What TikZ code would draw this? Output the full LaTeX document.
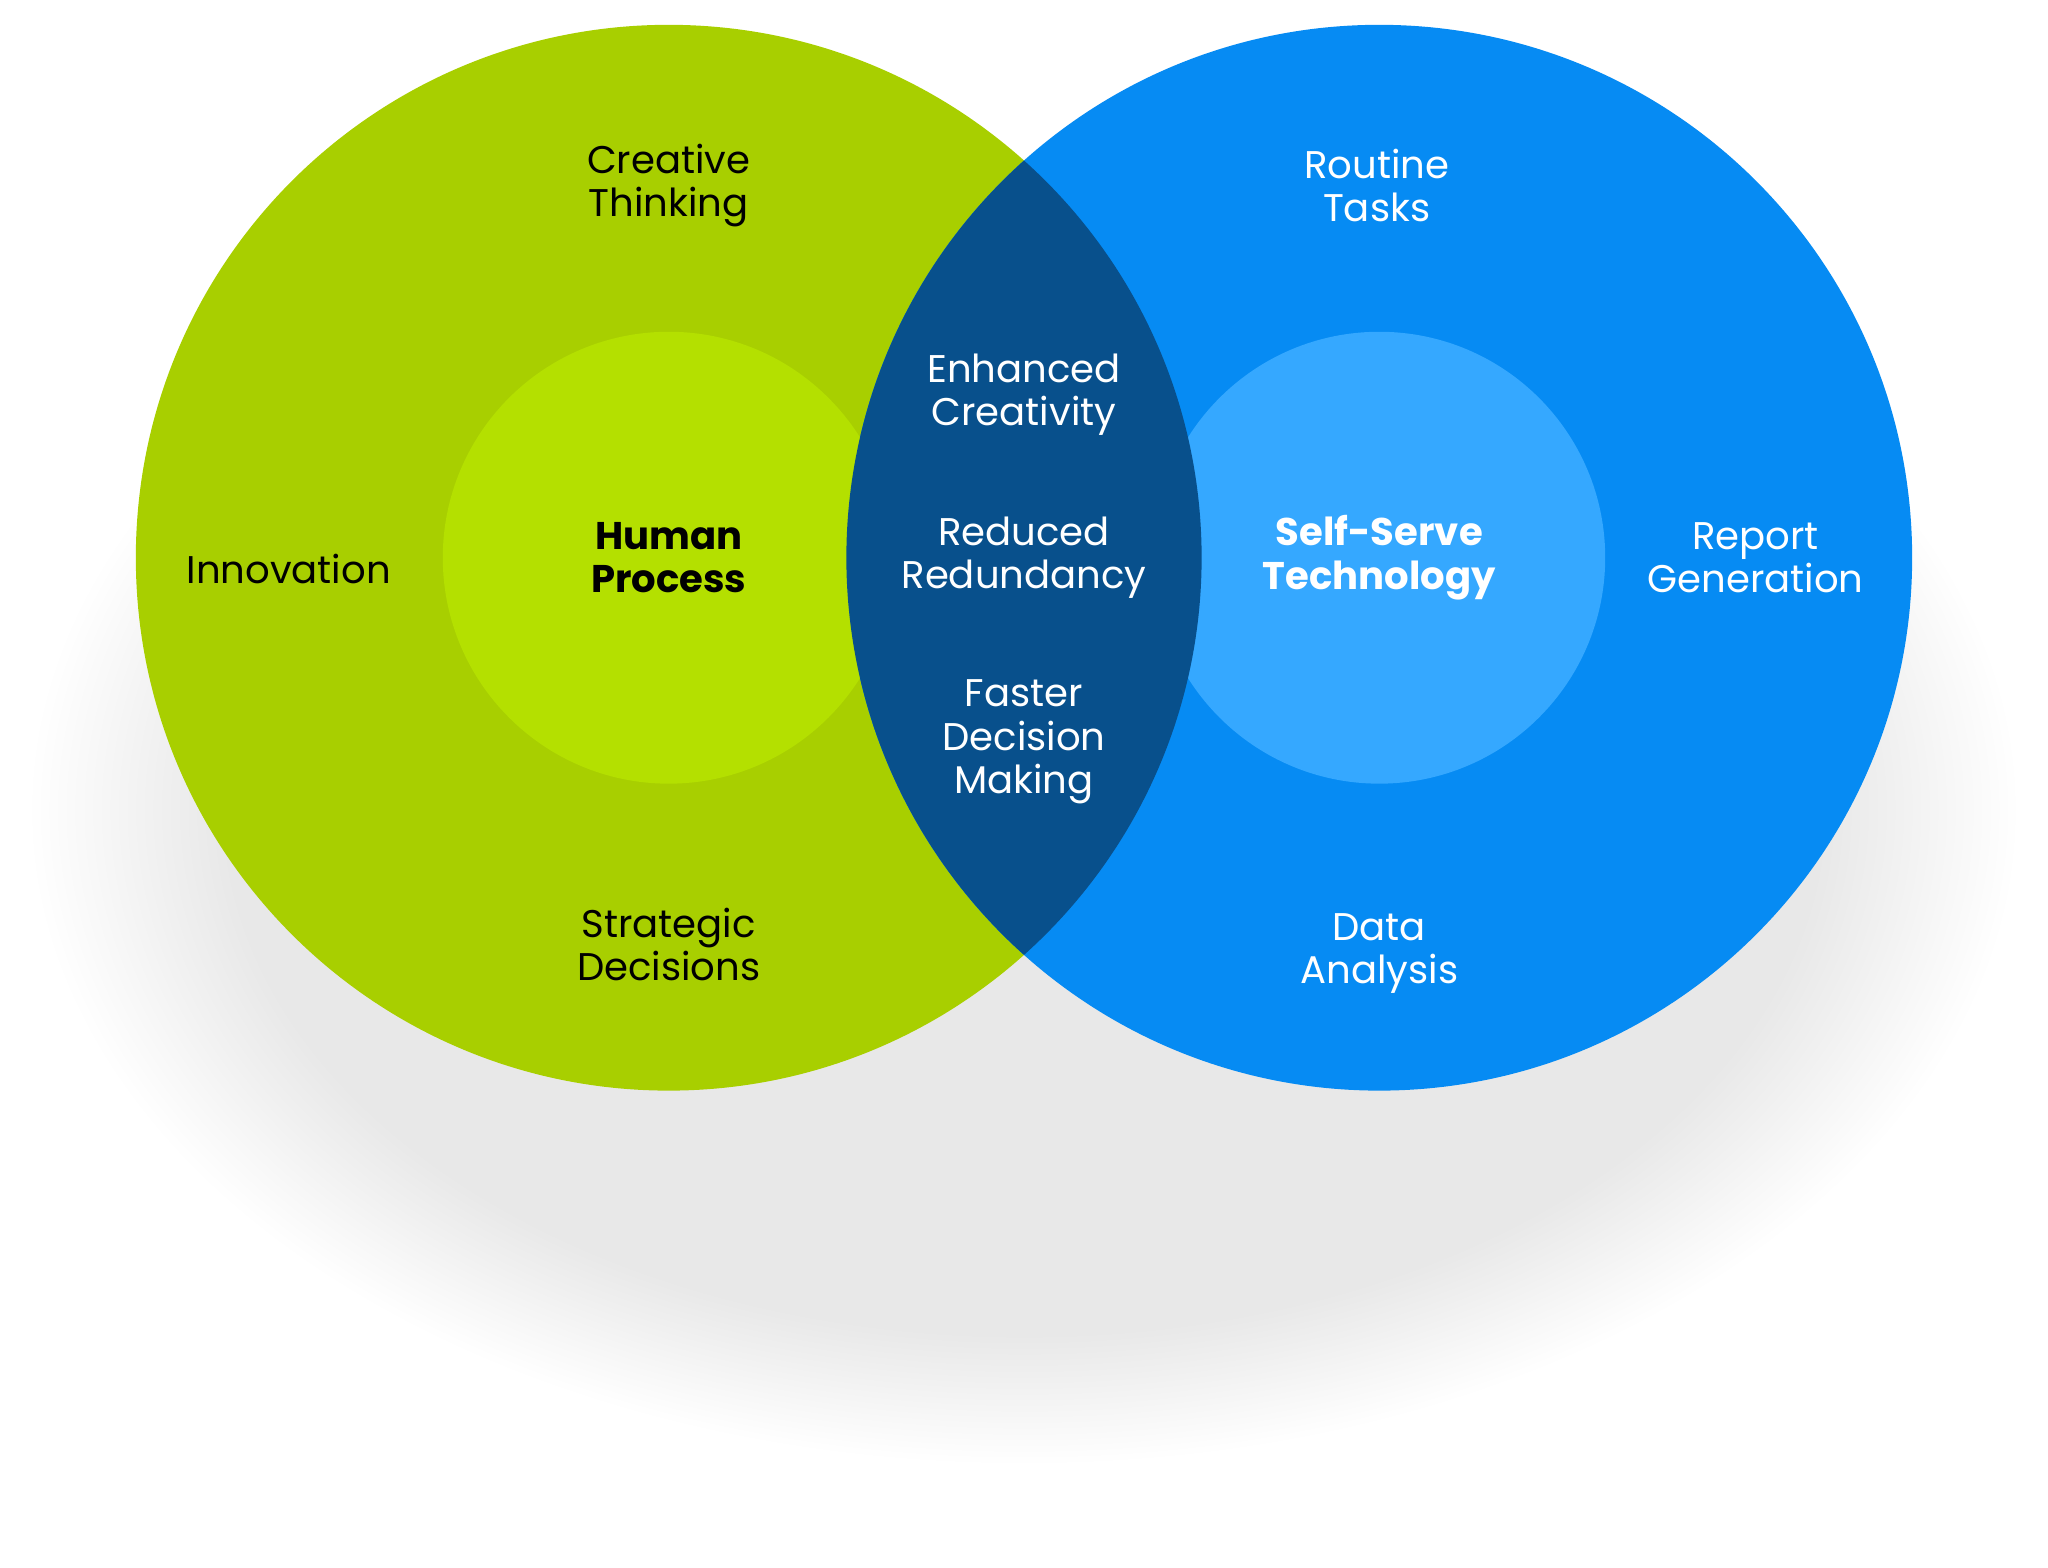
\documentclass[tikz,border=0pt]{standalone}
\usepackage{fontspec}
\setmainfont{Poppins}
\usetikzlibrary{fadings}
\definecolor{hmOuter}{HTML}{A8CF00}
\definecolor{hmInner}{HTML}{B4E000}
\definecolor{tcOuter}{HTML}{068BF3}
\definecolor{tcInner}{HTML}{35A8FF}
\definecolor{lens}{HTML}{08508C}
\tikzset{
  lbl/.style={align=center, font=\fontsize{8.4}{9.4}\selectfont},
  dark/.style={lbl, text=black},
  light/.style={lbl, text=white},
  title/.style={font=\fontsize{8.4}{9.4}\selectfont\bfseries}
}
\begin{document}
\begin{tikzpicture}[x=0.01cm, y=-0.01cm]
\useasboundingbox (0,0) rectangle (1568,1200);
% soft shadow
\fill[black, opacity=0.09, path fading=circle with fuzzy edge 20 percent]
  (784,620) ellipse (760 and 500);
% outer circles
\fill[hmOuter] (512,427) circle (408);
\fill[tcOuter] (1056,427) circle (408);
% inner circles
\fill[hmInner] (512,427) circle (173);
\fill[tcInner] (1056,427) circle (173);
% overlap
\begin{scope}
  \clip (512,427) circle (408);
  \fill[lens] (1056,427) circle (408);
\end{scope}
% labels
\node[dark] (ct) at (512,142) {Creative\\Thinking};
\node[dark] (in) at (221,436) {Innovation};
\node[dark] (sd) at (512,723) {Strategic\\Decisions};
\node[dark, title] (hp) at (512,427) {Human\\Process};
\node[light] (ec) at (784,302) {Enhanced\\Creativity};
\node[light] (rr) at (784,427) {Reduced\\Redundancy};
\node[light] (fd) at (784,568) {Faster\\Decision\\Making};
\node[light, title] (st) at (1056,427) {Self-Serve\\Technology};
\node[light] (rt) at (1054,142) {Routine\\Tasks};
\node[light] (rg) at (1344,427) {Report\\Generation};
\node[light] (da) at (1056,730) {Data\\Analysis};
\end{tikzpicture}
\end{document}
